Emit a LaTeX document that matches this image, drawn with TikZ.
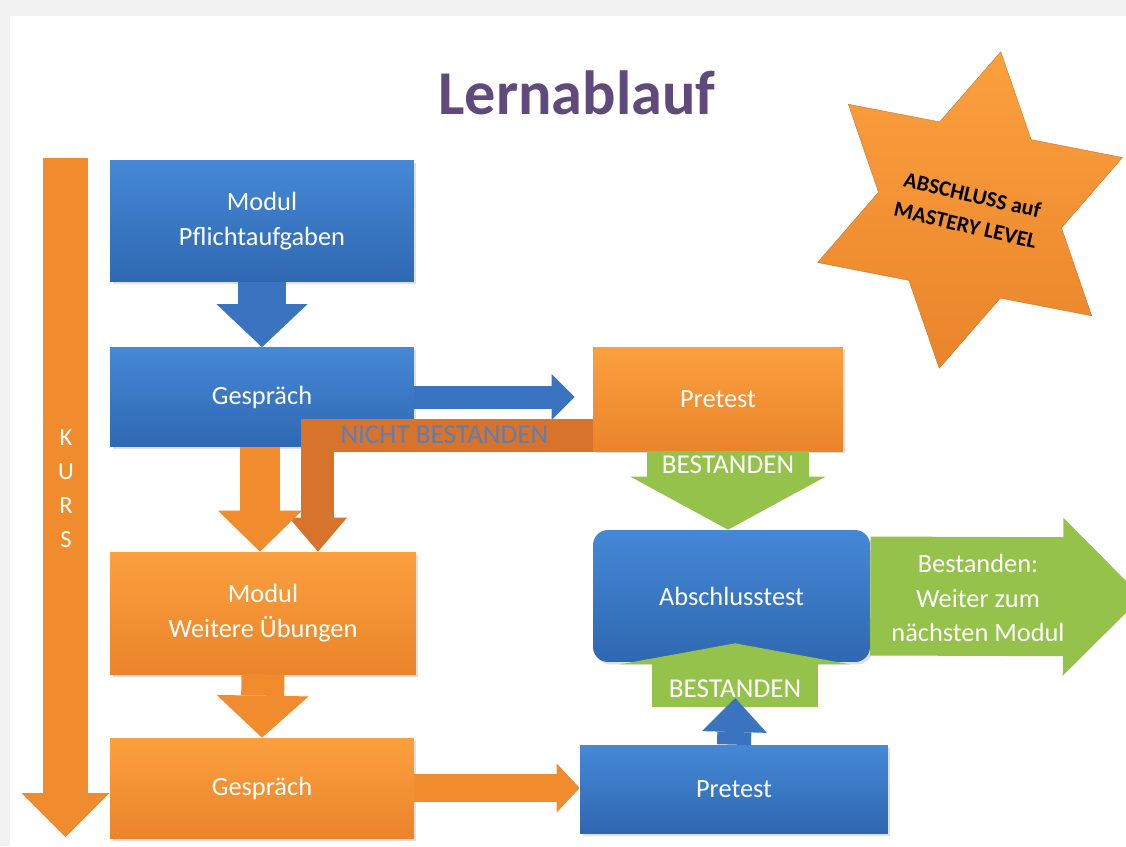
\documentclass[tikz,border=0pt]{standalone}
\usepackage{fontspec}
\setmainfont{Carlito}
\usetikzlibrary{arrows.meta, shapes.geometric, shadows}
\definecolor{bluetop}{HTML}{4588D6}
\definecolor{bluebot}{HTML}{2F68B2}
\definecolor{bluearr}{HTML}{3A74C0}
\definecolor{orangetop}{HTML}{FBA03F}
\definecolor{orangebot}{HTML}{EA842A}
\definecolor{orangearr}{HTML}{F08C2E}
\definecolor{greentop}{HTML}{A3CC58}
\definecolor{greenbot}{HTML}{88B540}
\definecolor{greenarr}{HTML}{95C24B}
\definecolor{nichtorange}{HTML}{D8732B}
\definecolor{nichtblue}{HTML}{5B7EB8}
\definecolor{titlepurple}{HTML}{604A7B}

\begin{document}
\begin{tikzpicture}[x=0.02cm, y=-0.02cm,
    box/.style = {inner sep=0pt, align=center, text=white, font=\fontsize{15}{19.8}\selectfont,
        drop shadow={shadow xshift=0.05cm, shadow yshift=-0.05cm, opacity=0.25}},
    bluebox/.style = {box, top color=bluetop, bottom color=bluebot},
    orangebox/.style = {box, top color=orangetop, bottom color=orangebot},
    label/.style = {text=white, font=\fontsize{15.5}{18}\selectfont},
    fat/.style n args = {3}{line width=#1, -{Triangle[line width=0pt, width=#2, length=#3]}}
]
\useasboundingbox (0,0) rectangle (1126,846);
\clip (0,0) rectangle (1126,846);
\fill[black!5] (0,0) rectangle (1126,846);
\fill[white] (10,16) rectangle (1126,846);

\node[font=\fontsize{35.5}{42}\selectfont\bfseries, text=titlepurple] (title) at (577,93) {Lernablauf};

% Kurs
\coordinate (kurstop) at (65.5,158);
\coordinate (kursend) at (65.5,837);
\draw[fat={0.9cm}{1.76cm}{0.88cm}, orangearr] (kurstop) -- (kursend);
\node[text=white, align=center, font=\fontsize{14}{19.3}\selectfont] (kurs) at (66,489) {K\\U\\R\\S};

% boxes
\node[bluebox, minimum width=6.08cm, minimum height=2.44cm] (mod1) at (262,221) {Modul\\Pflichtaufgaben};
\node[bluebox, minimum width=6.08cm, minimum height=1.98cm] (gesp1) at (262,397) {Gespräch};
\node[orangebox, minimum width=5cm, minimum height=2.08cm] (pre1) at (718,399) {Pretest};
\node[orangebox, minimum width=6.12cm, minimum height=2.44cm] (mod2) at (263,613) {Modul\\Weitere Übungen};
\node[orangebox, minimum width=6.08cm, minimum height=2cm] (gesp2) at (262,788) {Gespräch};
\node[bluebox, minimum width=6.16cm, minimum height=1.76cm] (pre2) at (734,789) {Pretest};
\node[bluebox, rounded corners=0.3cm, minimum width=5.54cm, minimum height=2.64cm] (absch) at (731.5,596) {Abschlusstest};

% star
\node[star, star points=6, star point ratio=1.73, minimum size=6.45cm, inner sep=0pt, rotate=-11,
      top color=orangetop, bottom color=orangebot, draw=orangebot!85!black, very thin] (star) at (970,210) {};
\node[rotate=-13, align=center, font=\fontsize{12.5}{17.5}\selectfont\bfseries] (startext) at (969,210) {ABSCHLUSS auf\\MASTERY LEVEL};

% connectors
\draw[fat={0.98cm}{1.82cm}{0.86cm}, bluearr] (mod1.south) -- (gesp1.north);
\draw[fat={0.46cm}{0.92cm}{0.46cm}, bluearr, shorten >=0.36cm] (gesp1.east) -- (gesp1.east -| pre1.west);
\draw[fat={0.66cm}{1.16cm}{0.68cm}, nichtorange] ([yshift=-0.72cm]pre1.west) -| ([xshift=1.1cm]mod2.north)
    node[pos=0.27, text=nichtblue, font=\fontsize{15.5}{18}\selectfont] (nicht) {NICHT BESTANDEN};
\draw[fat={0.8cm}{1.68cm}{0.82cm}, orangearr] ([xshift=-0.04cm]gesp1.south) -- ([xshift=-0.04cm]gesp1.south |- mod2.north);
\draw[fat={0.86cm}{1.84cm}{0.84cm}, orangearr] (mod2.south) -- (gesp2.north);
\draw[fat={0.56cm}{0.98cm}{0.46cm}, orangearr] (gesp2.east) -- (gesp2.east -| pre2.west);

\coordinate (best1) at (728,451);
\draw[fat={3.26cm}{3.9cm}{1.06cm}, greenarr] (best1) -- (best1 |- absch.north)
    node[pos=0.18, label] {BESTANDEN};
\coordinate (best2) at (735,707);
\draw[fat={3.32cm}{4.6cm}{0.42cm}, greenarr, shorten >=-0.38cm] (best2) -- (best2 |- absch.south)
    node[pos=0.4, label] {BESTANDEN};
\draw[fat={0.68cm}{1.3cm}{0.68cm}, bluearr, shorten >=-0.18cm] (pre2.north) -- (best2);

\coordinate (weiter) at (1142,597);
\draw[fat={2.38cm}{3.16cm}{1.58cm}, greenarr] (absch.east) -- (weiter);
\node[text=white, align=center, font=\fontsize{15}{19.8}\selectfont] (weitertext) at (978,598) {Bestanden:\\Weiter zum\\nächsten Modul};
\end{tikzpicture}
\end{document}
